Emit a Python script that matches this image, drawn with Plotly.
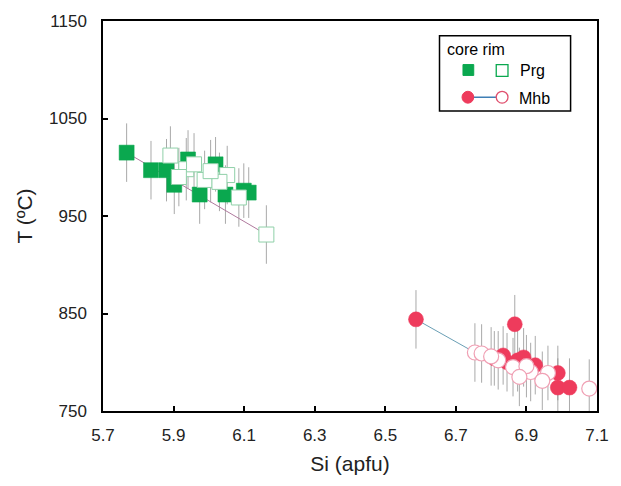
import plotly.graph_objects as go

# ---- data ----
prg_core_si = [5.767, 5.836, 5.880, 5.902, 5.941, 6.019, 6.047, 6.099, 6.113, 5.974]
prg_core_t  = [1015, 997, 997, 982, 1008, 1003, 972, 976, 974, 972]
prg_core_err = [30, 30, 32, 30, 30, 28, 30, 28, 26, 30]

prg_rim_si = [6.163, 5.891, 5.936, 5.988, 6.052, 6.085, 5.958, 6.030, 5.915, 6.005]
prg_rim_t  = [931, 1012, 998, 987, 992, 969, 1003, 985, 990, 996]
prg_rim_err = [30, 30, 32, 30, 30, 30, 32, 30, 30, 32]

mhb_core_si = [6.587, 6.867, 6.809, 6.834, 6.875, 6.892, 6.925, 6.989, 6.989, 7.022, 6.845]
mhb_core_t  = [844, 839, 804, 807, 802, 805, 797, 789, 774, 774, 800]
mhb_core_err = [30, 30, 28, 30, 32, 30, 30, 28, 30, 30, 30]

mhb_rim_si = [6.754, 6.773, 6.820, 6.862, 6.912, 6.961, 6.945, 7.078, 6.900, 6.880, 6.800]
mhb_rim_t  = [810, 809, 802, 795, 790, 789, 781, 773, 796, 785, 806]
mhb_rim_err = [30, 30, 30, 30, 30, 28, 30, 30, 32, 30, 30]

# core-rim pairs whose tie line is visible (index into the arrays above)
prg_tie_idx = [0]
mhb_tie_idx = [0]

x_ticks = [5.7, 5.9, 6.1, 6.3, 6.5, 6.7, 6.9, 7.1]
y_ticks = [750, 850, 950, 1050, 1150]

GREEN = "#0aa84f"
RED = "#ee3b5c"
ERR = "rgba(140,140,140,0.75)"

fig = go.Figure()

def err_trace(xs, ys, es):
    fig.add_trace(go.Scatter(
        x=xs, y=ys, mode="markers",
        marker=dict(size=1, color="rgba(0,0,0,0)"),
        error_y=dict(type="data", array=es, visible=True, color=ERR, thickness=1, width=0),
        hoverinfo="skip", showlegend=False))

err_trace(prg_core_si, prg_core_t, prg_core_err)
err_trace(prg_rim_si, prg_rim_t, prg_rim_err)
err_trace(mhb_core_si, mhb_core_t, mhb_core_err)
err_trace(mhb_rim_si, mhb_rim_t, mhb_rim_err)

def tie(cx, cy, rx, ry, idx, color):
    xs, ys = [], []
    for i in idx:
        xs += [cx[i], rx[i], None]
        ys += [cy[i], ry[i], None]
    fig.add_trace(go.Scatter(x=xs, y=ys, mode="lines",
                             line=dict(color=color, width=1),
                             hoverinfo="skip", showlegend=False))

tie(prg_core_si, prg_core_t, prg_rim_si, prg_rim_t, prg_tie_idx, "#b07a9e")
tie(mhb_core_si, mhb_core_t, mhb_rim_si, mhb_rim_t, mhb_tie_idx, "#6a9fb5")

fig.add_trace(go.Scatter(x=prg_core_si, y=prg_core_t, mode="markers",
                         marker=dict(symbol="square", size=15, color=GREEN,
                                     line=dict(width=0.5, color=GREEN)),
                         showlegend=False))
fig.add_trace(go.Scatter(x=prg_rim_si, y=prg_rim_t, mode="markers",
                         marker=dict(symbol="square", size=15, color="white",
                                     line=dict(width=1, color="#8fd0a8")),
                         showlegend=False))
fig.add_trace(go.Scatter(x=mhb_core_si, y=mhb_core_t, mode="markers",
                         marker=dict(symbol="circle", size=15, color=RED,
                                     line=dict(width=0.5, color=RED)),
                         showlegend=False))
fig.add_trace(go.Scatter(x=mhb_rim_si, y=mhb_rim_t, mode="markers",
                         marker=dict(symbol="circle", size=15, color="white",
                                     line=dict(width=1.2, color="#f0a0b4")),
                         showlegend=False))

# ---- legend drawn manually (paper coords) ----
L, R, T, B = 103, 608, 17, 411
W, H = R - L, B - T
def px(xp): return (xp - L) / W
def py(yp): return (B - yp) / H

shapes = [
    dict(type="rect", xref="paper", yref="paper", x0=px(447), x1=px(581), y0=py(108), y1=py(32),
         line=dict(color="black", width=1.5), fillcolor="white", layer="above"),
    dict(type="rect", xref="paper", yref="paper", x0=px(471), x1=px(482), y0=py(72), y1=py(61),
         line=dict(color=GREEN, width=1), fillcolor=GREEN, layer="above"),
    dict(type="rect", xref="paper", yref="paper", x0=px(505), x1=px(517), y0=py(73), y1=py(61),
         line=dict(color=GREEN, width=1.3), fillcolor="white", layer="above"),
    dict(type="line", xref="paper", yref="paper", x0=px(477), x1=px(511), y0=py(94), y1=py(94),
         line=dict(color="#3f7fb5", width=1.5), layer="above"),
    dict(type="circle", xref="paper", yref="paper", x0=px(470), x1=px(482), y0=py(100), y1=py(88),
         line=dict(color=RED, width=1), fillcolor=RED, layer="above"),
    dict(type="circle", xref="paper", yref="paper", x0=px(505), x1=px(517), y0=py(100), y1=py(88),
         line=dict(color="#e0506e", width=1.3), fillcolor="white", layer="above"),
]
annotations = [
    dict(xref="paper", yref="paper", x=px(453), y=py(46), text="core rim", showarrow=False,
         xanchor="left", yanchor="middle", font=dict(size=16, color="black")),
    dict(xref="paper", yref="paper", x=px(527), y=py(67), text="Prg", showarrow=False,
         xanchor="left", yanchor="middle", font=dict(size=16, color="black")),
    dict(xref="paper", yref="paper", x=px(526), y=py(95), text="Mhb", showarrow=False,
         xanchor="left", yanchor="middle", font=dict(size=16, color="black")),
]

fig.update_layout(
    width=621, height=486,
    margin=dict(l=L, r=621 - R, t=T, b=486 - B),
    paper_bgcolor="white", plot_bgcolor="white",
    font=dict(family="Liberation Sans, Arial, sans-serif", size=17, color="#222"),
    shapes=shapes, annotations=annotations,
    xaxis=dict(range=[5.7, 7.1], tickvals=x_ticks, ticktext=[f"{v:.1f}" for v in x_ticks],
               ticks="inside", ticklen=5, tickwidth=1.5, tickcolor="black",
               ticklabelstandoff=8,
               showline=True, linecolor="black", linewidth=1.5, mirror=True,
               showgrid=False, zeroline=False,
               title=dict(text="Si (apfu)", font=dict(size=21), standoff=12)),
    yaxis=dict(range=[750, 1150], tickvals=y_ticks, ticks="inside", ticklen=5,
               tickwidth=1.5, tickcolor="black", ticklabelstandoff=11,
               showline=True, linecolor="black", linewidth=1.5, mirror=True,
               showgrid=False, zeroline=False,
               title=dict(text="T (ºC)", font=dict(size=21), standoff=11)),
)

fig.write_html("out.html")
